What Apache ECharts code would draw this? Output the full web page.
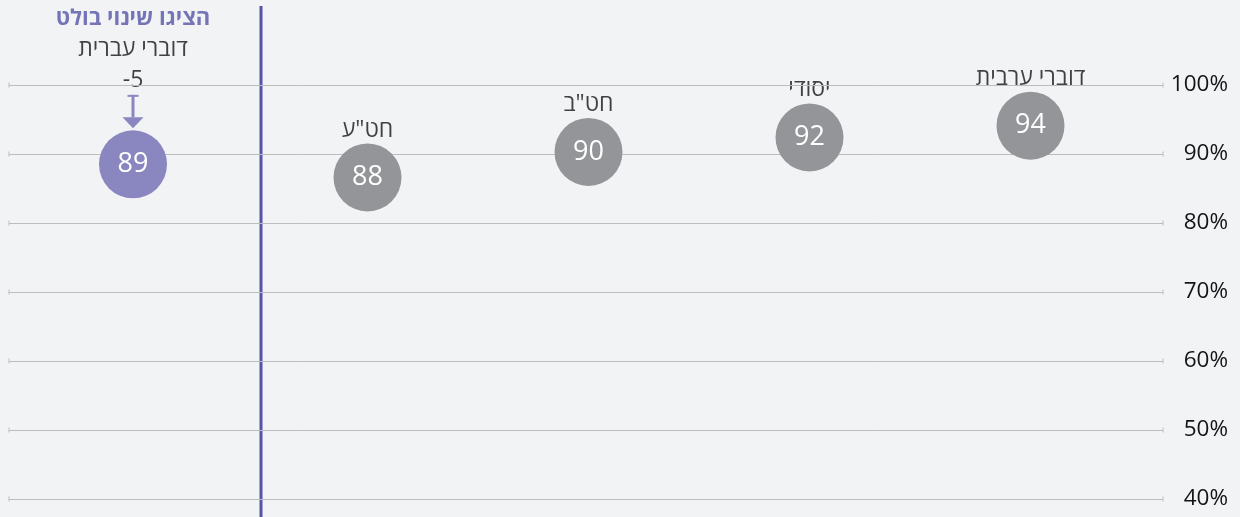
<!DOCTYPE html>
<html>
<head>
<meta charset="utf-8">
<script src="https://cdn.jsdelivr.net/npm/echarts@6/dist/echarts.min.js"></script>
<style>
html,body{margin:0;padding:0;background:#f2f3f5;}
#c{width:1240px;height:517px;}
</style>
</head>
<body>
<div id="c"></div>
<script>
// ---- data ----
const Y_TICKS = [40, 50, 60, 70, 80, 90, 100];
const HIGHLIGHT_TITLE = 'הציגו שינוי בולט';
const HIGHLIGHT_CATEGORY = ['דוברי עברית'];
const HIGHLIGHT_VALUE = [88.5];
const HIGHLIGHT_LABEL = [89];
const HIGHLIGHT_CHANGE = [-5];
const CATEGORIES = ['חט"ע', 'חט"ב', 'יסודי', 'דוברי ערבית'];
const VALUES = [86.6, 90.3, 92.4, 94.1];
const VALUE_LABELS = [88, 90, 92, 94];

// ---- style ----
const FONT = '"Open Sans", "Liberation Sans", "DejaVu Sans", sans-serif';
const GRAY = '#939598';
const PURPLE = '#8a86c0';
const DARK_PURPLE = '#5454a8';
const TEXT = '#141414';
const R = 34;
const TOP = 85, BOTTOM = 18;
const DIVIDER_X = 261;

const chart = echarts.init(document.getElementById('c'));

const gridLines = Y_TICKS.map(v => [{coord: [0, v]}, {coord: [1, v]}]);

const option = {
  backgroundColor: '#f2f3f5',
  animation: false,
  textStyle: {fontFamily: FONT},
  grid: [
    {left: 9, right: 77, top: TOP, bottom: BOTTOM},
    {left: 9, width: 248, top: TOP, bottom: BOTTOM},
    {left: 257, right: 99, top: TOP, bottom: BOTTOM}
  ],
  xAxis: [
    {gridIndex: 0, type: 'value', min: 0, max: 1, show: false},
    {gridIndex: 1, type: 'category', data: HIGHLIGHT_CATEGORY, show: false},
    {gridIndex: 2, type: 'category', data: CATEGORIES, show: false}
  ],
  yAxis: [
    {gridIndex: 0, type: 'value', position: 'right', min: 40, max: 100, interval: 10,
     axisLine: {show: false}, axisTick: {show: false}, splitLine: {show: false},
     axisLabel: {formatter: '{value}%', fontSize: 22.5, color: TEXT, align: 'right', margin: 65, fontFamily: FONT}},
    {gridIndex: 1, type: 'value', min: 40, max: 100, show: false},
    {gridIndex: 2, type: 'value', min: 40, max: 100, show: false}
  ],
  graphic: [
    {type: 'line', shape: {x1: DIVIDER_X, y1: 6, x2: DIVIDER_X, y2: 517},
     style: {stroke: DARK_PURPLE, lineWidth: 3}, z: 1}
  ],
  series: [
    {
      type: 'line', xAxisIndex: 0, yAxisIndex: 0, data: [], silent: true,
      markLine: {
        silent: true, symbol: ['rect', 'rect'], symbolSize: [5, 1],
        label: {show: false},
        lineStyle: {color: '#bdbdbd', width: 1, type: 'solid'},
        data: gridLines
      }
    },
    // highlighted bubble
    {
      type: 'scatter', xAxisIndex: 1, yAxisIndex: 1, symbolSize: R * 2, z: 5,
      data: HIGHLIGHT_VALUE.map((v, i) => [i, v]),
      itemStyle: {color: PURPLE, opacity: 1},
      label: {show: true, position: 'inside', color: '#fff', fontSize: 27, fontWeight: 'normal',
        formatter: p => String(HIGHLIGHT_LABEL[p.dataIndex])}
    },
    // highlighted header block
    {
      type: 'scatter', xAxisIndex: 1, yAxisIndex: 1, symbolSize: R * 2, z: 4, silent: true,
      data: HIGHLIGHT_VALUE.map((v, i) => [i, v]),
      itemStyle: {color: 'rgba(0,0,0,0)'},
      label: {show: true, position: 'top', distance: 34,
        formatter: p => '{t|' + HIGHLIGHT_TITLE + '}\n{c|' + HIGHLIGHT_CATEGORY[p.dataIndex] + '}\n{d|' + HIGHLIGHT_CHANGE[p.dataIndex] + '}',
        rich: {
          t: {fontSize: 22, fontWeight: 'bold', color: DARK_PURPLE, lineHeight: 31, fontFamily: FONT},
          c: {fontSize: 23, fontWeight: 500, color: TEXT, lineHeight: 31, fontFamily: FONT},
          d: {fontSize: 23, fontWeight: 500, color: TEXT, lineHeight: 31, fontFamily: FONT}
        }
      }
    },
    // arrow
    {
      type: 'custom', xAxisIndex: 1, yAxisIndex: 1, silent: true, z: 6,
      data: HIGHLIGHT_VALUE.map((v, i) => [i, v]),
      renderItem: (params, api) => {
        const p = api.coord([api.value(0), api.value(1)]);
        const cx = p[0], cy = p[1];
        const top = cy - R - 35.5;
        const tip = cy - R - 2;
        const base = tip - 11;
        return {
          type: 'group',
          children: [
            {type: 'rect', shape: {x: cx - 5.5, y: top, width: 11, height: 2}, style: {fill: PURPLE}},
            {type: 'rect', shape: {x: cx - 1.5, y: top, width: 3, height: base - top}, style: {fill: PURPLE}},
            {type: 'polygon', shape: {points: [[cx - 10.5, base], [cx + 10.5, base], [cx, tip]]}, style: {fill: PURPLE}}
          ]
        };
      }
    },
    // main bubbles
    {
      type: 'scatter', xAxisIndex: 2, yAxisIndex: 2, symbolSize: R * 2, z: 5,
      data: VALUES.map((v, i) => [i, v]),
      itemStyle: {color: GRAY, opacity: 1},
      label: {show: true, position: 'inside', color: '#fff', fontSize: 27, fontWeight: 'normal',
        formatter: p => String(VALUE_LABELS[p.dataIndex])}
    },
    // category names
    {
      type: 'scatter', xAxisIndex: 2, yAxisIndex: 2, symbolSize: R * 2, z: 4, silent: true,
      data: VALUES.map((v, i) => [i, v]),
      itemStyle: {color: 'rgba(0,0,0,0)'},
      label: {show: true, position: 'top', distance: 2, color: TEXT, fontSize: 23, fontWeight: 500,
        formatter: p => CATEGORIES[p.dataIndex]}
    }
  ]
};
chart.setOption(option);
</script>
</body>
</html>
